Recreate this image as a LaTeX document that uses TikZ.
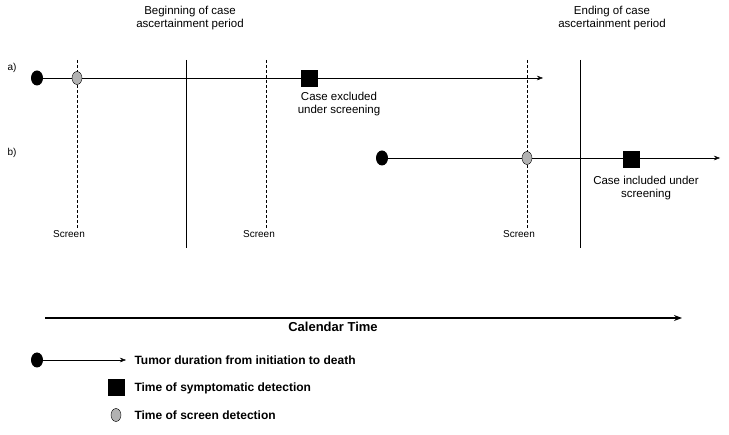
\documentclass[tikz,border=0pt]{standalone}
\usepackage{fontspec}
\setmainfont{Liberation Sans}
\usetikzlibrary{arrows.meta,shapes.geometric}
\begin{document}
\begin{tikzpicture}[x=1pt,y=-1pt,
  txt/.style={font=\fontsize{11.5}{12.5}\selectfont,align=center},
  sm/.style={font=\fontsize{10}{11}\selectfont},
  scr/.style={font=\fontsize{10}{11}\selectfont},
  leg/.style={font=\bfseries\fontsize{12}{13}\selectfont,anchor=west},
  blk/.style={ellipse,fill=black,minimum width=12pt,minimum height=15pt,inner sep=0},
  gry/.style={ellipse,fill=gray!60,draw=black,minimum width=10pt,minimum height=13pt,inner sep=0},
  sq/.style={rectangle,fill=black,minimum size=17pt,inner sep=0},
  arr/.style={-{Stealth[length=6pt,width=4.5pt]},thin},
  dsh/.style={dash pattern=on 3pt off 2pt,thin},
  sol/.style={thin}]
\useasboundingbox (0,0) rectangle (729,435);
% headers
\node[txt] (hb) at (190,18) {Beginning of case\\ascertainment period};
\node[txt] (he) at (612,18) {Ending of case\\ascertainment period};
\node[sm] (la) at (12,68) {a)};
\node[sm] (lb) at (12,153) {b)};
% verticals
\coordinate (s1t) at (186,60); \coordinate (s1b) at (186,248);
\coordinate (s2t) at (580,60); \coordinate (s2b) at (580,248);
\draw[sol] (s1t) -- (s1b);
\draw[sol] (s2t) -- (s2b);
\coordinate (d1t) at (77,60); \coordinate (d1b) at (77,228);
\coordinate (d2t) at (266,60); \coordinate (d2b) at (266,228);
\coordinate (d3t) at (527,60); \coordinate (d3b) at (527,228);
\draw[dsh] (d1t) -- (d1b);
\draw[dsh] (d2t) -- (d2b);
\draw[dsh] (d3t) -- (d3b);
\node[scr] (sc1) at (69,234) {Screen};
\node[scr] (sc2) at (259,234) {Screen};
\node[scr] (sc3) at (519,234) {Screen};
% line a
\coordinate (ae) at (543,78);
\node[blk] (a0) at (37,78) {};
\draw[arr] (a0) -- (ae);
\node[gry] (a1) at (77,78) {};
\node[sq] (a2) at (309,79) {};
\node[txt] (at) at (339,104) {Case excluded\\under screening};
% line b
\coordinate (be) at (720,158);
\node[blk] (b0) at (382,158) {};
\draw[arr] (b0) -- (be);
\node[gry] (b1) at (527,158) {};
\node[sq] (b2) at (631,160) {};
\node[txt] (bt) at (646,188) {Case included under\\screening};
% calendar
\coordinate (c0) at (45,318); \coordinate (c1) at (682,318);
\draw[-{Stealth[length=8pt,width=6pt]},line width=1.4pt] (c0) -- (c1);
\node[font=\bfseries\fontsize{13}{15}\selectfont] (ct) at (333,327) {Calendar Time};
% legend
\node[blk] (l0) at (37,360) {};
\coordinate (le) at (126,360);
\draw[arr] (l0) -- (le);
\node[leg] (lt1) at (131,360) {Tumor duration from initiation to death};
\node[sq] (l2) at (116,388) {};
\node[leg] (lt2) at (131,388) {Time of symptomatic detection};
\node[gry] (l3) at (116,415) {};
\node[leg] (lt3) at (131,415) {Time of screen detection};
\end{tikzpicture}
\end{document}
